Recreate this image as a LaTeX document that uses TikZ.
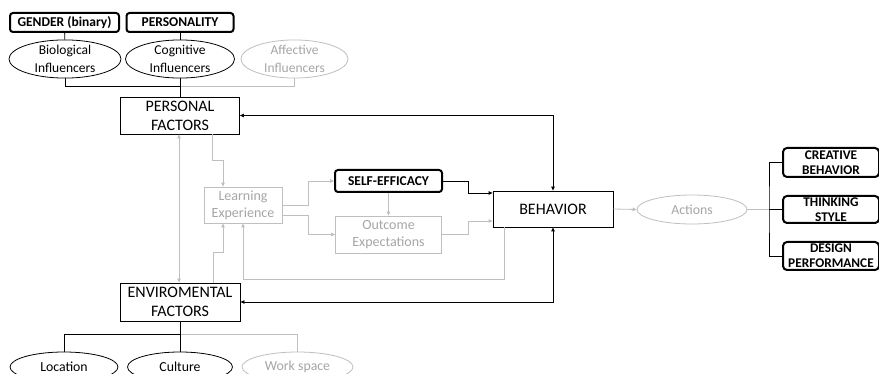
\documentclass[tikz,border=0pt]{standalone}
\usepackage{fontspec}
\setmainfont{Carlito}
\usetikzlibrary{arrows.meta}
\definecolor{lgray}{HTML}{BFBFBF}
\definecolor{tgray}{HTML}{A6A6A6}
\tikzset{
  base/.style={inner sep=1pt, align=center, text=black},
  mainbox/.style={base, draw, line width=0.8pt, font=\fontsize{16}{19}\selectfont},
  boldbox/.style={base, draw, line width=2pt, rounded corners=3pt, font=\fontsize{13.5}{15}\selectfont\bfseries},
  rbox/.style={base, draw, line width=2pt, rounded corners=4pt, font=\fontsize{13.3}{15}\selectfont\bfseries},
  grbox/.style={base, draw=lgray, line width=0.8pt, text=tgray, font=\fontsize{14}{17}\selectfont},
  ell/.style={base, ellipse, draw, line width=0.8pt, inner sep=0pt, font=\fontsize{13.5}{17.5}\selectfont},
  gell/.style={ell, draw=lgray, text=tgray},
  bline/.style={line width=0.8pt, black},
  gline/.style={line width=0.8pt, lgray},
  barrow/.style={bline, -{Triangle[length=4pt,width=3.5pt]}},
  bbarrow/.style={bline, {Triangle[length=4pt,width=3.5pt]}-{Triangle[length=4pt,width=3.5pt]}},
  garrow/.style={gline, -{Triangle[length=4pt,width=3.5pt]}},
  gbarrow/.style={gline, {Triangle[length=4pt,width=3.5pt]}-{Triangle[length=4pt,width=3.5pt]}},
}
\usetikzlibrary{shapes.geometric}
\begin{document}
\begin{tikzpicture}[x=1pt,y=-1pt]
\useasboundingbox (0,0) rectangle (879,374);
\fill[white] (0,0) rectangle (879,374);
\clip (0,0) rectangle (879,374);

% top
\node[boldbox, minimum width=109pt, minimum height=19pt] (gender) at (64.5,22.5) {GENDER (binary)};
\node[boldbox, minimum width=107pt, minimum height=19pt] (pers) at (180,22.5) {PERSONALITY};
\node[ell, minimum width=112pt, minimum height=28pt] (bio) at (65,59) {Biological\\Influencers};
\node[ell, minimum width=109pt, minimum height=28pt] (cog) at (180,59) {Cognitive\\Influencers};
\node[gell, minimum width=107pt, minimum height=28pt] (aff) at (294.5,59) {Affective\\Influencers};
\coordinate (topbus) at (180,86);

% factors
\node[mainbox, minimum width=119pt, minimum height=37pt] (personal) at (180,115.5) {PERSONAL\\FACTORS};
\node[mainbox, minimum width=120pt, minimum height=38pt] (env) at (180,302) {ENVIROMENTAL\\FACTORS};

% middle
\node[grbox, minimum width=78pt, minimum height=36pt] (learning) at (243,205) {Learning\\Experience};
\node[boldbox, minimum width=107pt, minimum height=22pt] (selfeff) at (388.5,181) {SELF-EFFICACY};
\node[grbox, minimum width=106pt, minimum height=37pt] (outcome) at (388.5,234.5) {Outcome\\Expectations};
\node[mainbox, minimum width=120pt, minimum height=36pt] (behavior) at (553,209) {BEHAVIOR};
\node[gell, minimum width=110pt, minimum height=29pt, font=\fontsize{13.8}{16}\selectfont] (actions) at (692,209.5) {Actions};

% right
\node[rbox, minimum width=96pt, minimum height=29pt] (creative) at (831,162.5) {CREATIVE\\BEHAVIOR};
\node[rbox, minimum width=96pt, minimum height=27pt] (thinking) at (831,209.5) {THINKING\\STYLE};
\node[rbox, minimum width=96pt, minimum height=28pt] (design) at (831,256) {DESIGN\\PERFORMANCE};
\coordinate (rbus) at (769,209.5);

% bottom
\node[ell, minimum width=108pt, minimum height=30pt, font=\fontsize{13.8}{16}\selectfont] (location) at (64,367) {Location};
\node[ell, minimum width=105pt, minimum height=30pt, font=\fontsize{13.8}{16}\selectfont] (culture) at (180,367) {Culture};
\node[gell, minimum width=111pt, minimum height=30pt, font=\fontsize{13.8}{16}\selectfont] (workspace) at (297.5,367) {Work space};
\coordinate (bbus) at (180,334);

% top connectors
\draw[bline] (gender) -- (bio);
\draw[bline] (pers) -- (cog);
\draw[gline] (aff.south) |- (topbus);
\draw[bline] (bio.south) |- (topbus);
\draw[bline] (cog.south) -- (personal.north);

% bottom connectors
\draw[gline] (workspace.north) |- (bbus);
\draw[bline] (location.north) |- (bbus);
\draw[bline] (env.south) -- (culture.north);

% factors <-> behavior
\draw[bbarrow] (personal.east) -| (behavior.north);
\draw[bbarrow] (env.east) -| (behavior.south);
\draw[gbarrow] ([xshift=-1pt]personal.south) -- ([xshift=-1pt]env.north);

% to learning
\draw[garrow] ([xshift=32.5pt]personal.south) -- ++(0,26) -| ([xshift=-20pt]learning.north);
\draw[garrow] ([xshift=33pt]env.north) -- ++(0,-30) -| ([xshift=-20pt]learning.south);
\draw[garrow] ([xshift=-49pt]behavior.south) -- ++(0,52) -| (learning.south);

% learning to SE / outcome
\draw[garrow] (learning.east) -- ++(26,0) |- (selfeff.west);
\draw[garrow] ([yshift=-10pt]learning.east) -- ++(26,0) |- (outcome.west);
\draw[garrow] (selfeff.south) -- (outcome.north);

% to behavior
\draw[barrow] (selfeff.east) -- ++(25.5,0) |- ([yshift=16pt]behavior.west);
\draw[garrow] (outcome.east) -- ++(26,0) |- ([yshift=-12pt]behavior.west);

% actions
\draw[garrow] (behavior.east) -- (actions.west);
\draw[gline] (actions.east) -- (rbus);
\draw[bline] (creative.west) -| (rbus) |- (design.west);
\draw[bline] (rbus) -- (thinking.west);
\end{tikzpicture}
\end{document}
